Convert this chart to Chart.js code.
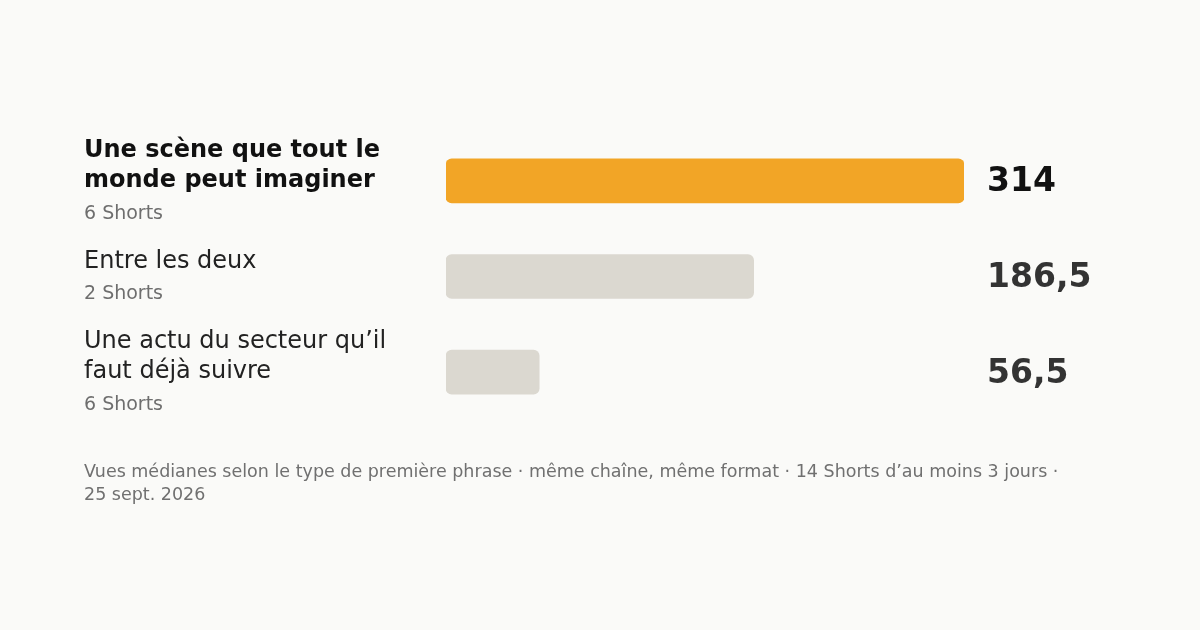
<!DOCTYPE html>
<html>
<head>
<meta charset="utf-8">
<script src="https://cdn.jsdelivr.net/npm/chart.js@4"></script>
<style>
  html, body { margin: 0; padding: 0; background: #fafaf8; }
  canvas { display: block; }
</style>
</head>
<body>
<canvas id="myChart" width="1200" height="630"></canvas>
<script>
const categories = [
    ['Une scène que tout le', 'monde peut imaginer'],
    ['Entre les deux'],
    ['Une actu du secteur qu’il', 'faut déjà suivre']
];
const counts = ['6 Shorts', '2 Shorts', '6 Shorts'];
const medianViews = [314, 186.5, 56.5];
const footerLines = [
    'Vues médianes selon le type de première phrase · même chaîne, même format · 14 Shorts d’au moins 3 jours ·',
    '25 sept. 2026'
];

const FONT = '"DejaVu Sans", sans-serif';
const ctx = document.getElementById('myChart');

function fmt(v) {
    return String(v).replace('.', ',');
}

const sideText = {
    id: 'sideText',
    afterDatasetsDraw(chart) {
        const c = chart.ctx;
        const yScale = chart.scales.y;
        const area = chart.chartArea;
        c.save();
        c.textAlign = 'left';
        c.textBaseline = 'middle';
        categories.forEach((lines, i) => {
            const cy = yScale.getPixelForValue(i);
            const start = cy - (lines.length * 30 + 32) / 2 + 16;
            c.font = (i === 0 ? 'bold ' : '') + '24px ' + FONT;
            c.fillStyle = i === 0 ? '#111111' : '#222222';
            lines.forEach((line, j) => {
                c.fillText(line, 84, start + j * 30);
            });
            c.font = '19px ' + FONT;
            c.fillStyle = '#6e6e6e';
            c.fillText(counts[i], 84, start + (lines.length - 1) * 30 + 33);

            c.font = 'bold 33px ' + FONT;
            c.fillStyle = i === 0 ? '#111111' : '#333333';
            c.fillText(fmt(medianViews[i]), area.right + 23, cy + 2);
        });
        c.font = '17.5px ' + FONT;
        c.fillStyle = '#707070';
        footerLines.forEach((line, j) => {
            c.fillText(line, 84, 472 + j * 23);
        });
        c.restore();
    }
};

new Chart(ctx, {
    type: 'bar',
    data: {
        labels: categories.map(l => l.join(' ')),
        datasets: [{
            data: medianViews,
            backgroundColor: medianViews.map((v, i) => i === 0 ? '#f2a526' : '#dbd8d0'),
            borderRadius: 6,
            borderSkipped: false,
            barThickness: 44
        }]
    },
    options: {
        indexAxis: 'y',
        responsive: false,
        animation: false,
        devicePixelRatio: 1,
        layout: {
            padding: { left: 446, right: 236, top: 133, bottom: 210 }
        },
        scales: {
            x: {
                display: false,
                min: 0,
                max: Math.max(...medianViews)
            },
            y: {
                display: false
            }
        },
        plugins: {
            legend: { display: false },
            tooltip: { enabled: false }
        }
    },
    plugins: [sideText]
});
</script>
</body>
</html>
